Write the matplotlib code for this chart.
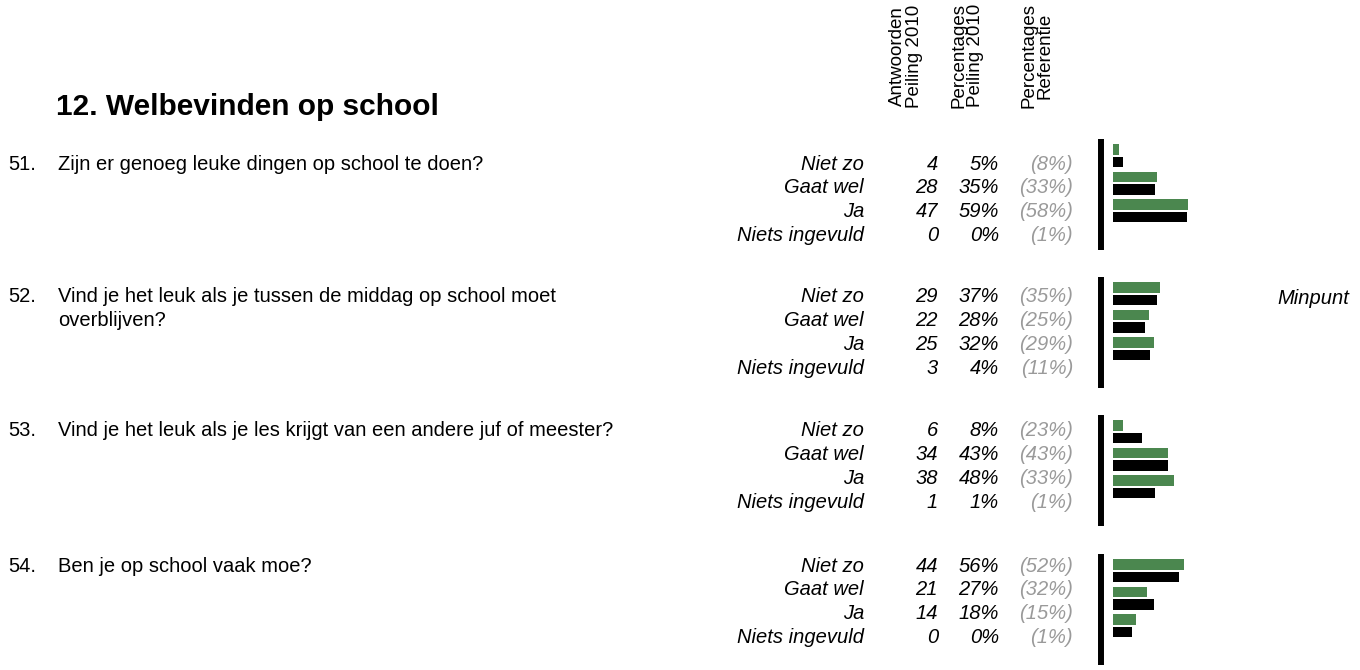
import matplotlib
matplotlib.use("Agg")
import matplotlib.pyplot as plt

plt.rcParams['font.family'] = ['Liberation Sans', 'DejaVu Sans']

# data
title = "12. Welbevinden op school"
headers = ["Antwoorden\nPeiling 2010", "Percentages\nPeiling 2010", "Percentages\nReferentie"]
numbers = ["51.", "52.", "53.", "54."]
questions = [
    "Zijn er genoeg leuke dingen op school te doen?",
    "Vind je het leuk als je tussen de middag op school moet\noverblijven?",
    "Vind je het leuk als je les krijgt van een andere juf of meester?",
    "Ben je op school vaak moe?",
]
answers = ["Niet zo", "Gaat wel", "Ja", "Niets ingevuld"]
counts = [[4, 28, 47, 0], [29, 22, 25, 3], [6, 34, 38, 1], [44, 21, 14, 0]]
pct_2010 = [[5, 35, 59, 0], [37, 28, 32, 4], [8, 43, 48, 1], [56, 27, 18, 0]]
pct_ref = [[8, 33, 58, 1], [35, 25, 29, 11], [23, 43, 33, 1], [52, 32, 15, 1]]
remarks = ["", "Minpunt", "", ""]

green = "#4b874f"
grey = "#9a9a9a"
fs = 14.5

fig = plt.figure(figsize=(13.6, 6.7), dpi=100)
ax = fig.add_axes([0, 0, 1, 1])
ax.set_xlim(0, 1360)
ax.set_ylim(670, 0)
ax.axis("off")

ax.text(56, 115, title, fontsize=21.5, fontweight="bold", va="baseline", ha="left")

# rotated column headers
for x, h in zip([906, 967, 1037], headers):
    ax.text(x, 108, h, rotation=90, fontsize=13.5, ha="center", va="bottom", linespacing=0.95)

row_top = [164, 297, 431, 566]   # y of first answer row per question
bar_top = [139, 277, 415, 554]   # top of the bar block per question
pitch = 23.8
scale = 1.27  # pixels per percent

for q in range(len(questions)):
    y0 = row_top[q]
    ax.text(8, y0, numbers[q], fontsize=fs, va="center", ha="left")
    for i, line in enumerate(questions[q].split("\n")):
        ax.text(58, y0 + i * pitch, line, fontsize=fs, va="center", ha="left")
    for i, a in enumerate(answers):
        y = y0 + i * pitch
        ax.text(864, y, a, fontsize=fs, style="italic", va="center", ha="right")
        ax.text(938, y, str(counts[q][i]), fontsize=fs, style="italic", va="center", ha="right")
        ax.text(999, y, f"{pct_2010[q][i]}%", fontsize=fs, style="italic", va="center", ha="right")
        ax.text(1073, y, f"({pct_ref[q][i]}%)", fontsize=fs, style="italic", color=grey,
                va="center", ha="right")
    if remarks[q]:
        ax.text(1349, y0 + 1, remarks[q], fontsize=fs, style="italic", va="center", ha="right")

    # bars: only the three real answers, green = 2010, black = reference
    b0 = bar_top[q]
    ax.plot([1101, 1101], [b0, b0 + 111], color="black", lw=4.3, solid_capstyle="butt")
    ys_g = [b0 + 5 + i * 27.5 + 5.25 for i in range(3)]
    ys_b = [b0 + 17.5 + i * 27.5 + 5.25 for i in range(3)]
    ax.barh(ys_g, [p * scale for p in pct_2010[q][:3]], height=10.5, left=1113, color=green)
    ax.barh(ys_b, [p * scale for p in pct_ref[q][:3]], height=10.5, left=1113, color="black")

fig.savefig("out.png", dpi=100)
